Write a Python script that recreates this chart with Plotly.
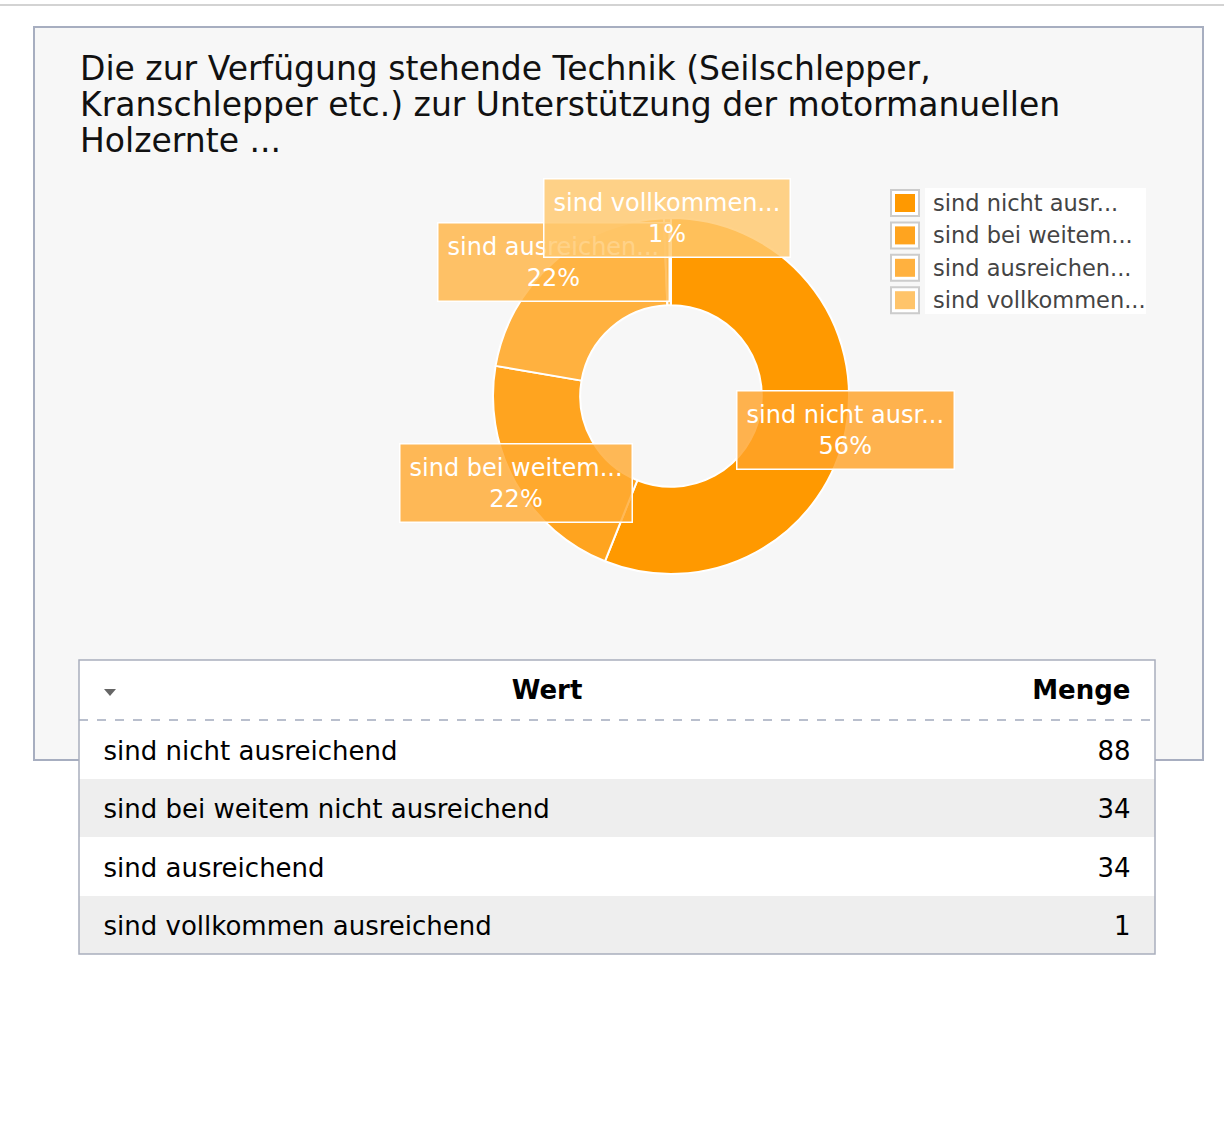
import math
import plotly.graph_objects as go

# ---------------- data ----------------
categories = [
    "sind nicht ausreichend",
    "sind bei weitem nicht ausreichend",
    "sind ausreichend",
    "sind vollkommen ausreichend",
]
short_labels = [
    "sind nicht ausr...",
    "sind bei weitem...",
    "sind ausreichen...",
    "sind vollkommen...",
]
counts = [88, 34, 34, 1]
colors = ["#ff9900", "#ffa41f", "#ffb13f", "#ffc46a"]
box_colors = ["rgba(255,162,40,0.82)", "rgba(255,170,50,0.82)",
              "rgba(255,180,70,0.82)", "rgba(255,200,110,0.82)"]
title_lines = [
    "Die zur Verfügung stehende Technik (Seilschlepper,",
    "Kranschlepper etc.) zur Unterstützung der motormanuellen",
    "Holzernte ...",
]
header_labels = ["Wert", "Menge"]

# ---------------- layout helpers ----------------
W, H = 1224, 1134
FONT = "DejaVu Sans"


def px(x):
    return x / W


def py(y):
    return 1 - y / H


CX, CY, R = 671, 396, 178
HOLE = 0.51

fig = go.Figure()

# Donut
fig.add_trace(go.Pie(
    labels=short_labels,
    values=counts,
    sort=False,
    direction="clockwise",
    rotation=0,
    hole=HOLE,
    textinfo="none",
    hoverinfo="label+value+percent",
    marker=dict(colors=colors, line=dict(color="white", width=2)),
    domain=dict(x=[px(CX - R), px(CX + R)], y=[py(CY + R), py(CY - R)]),
    showlegend=False,
))

# Table geometry
TX0, TX1, TY0 = 79, 1155, 660
HEAD_H, ROW_H = 60, 58.5
TY1 = TY0 + HEAD_H + ROW_H * len(categories)
row_fill = ["#ffffff" if i % 2 == 0 else "#eeeeee" for i in range(len(categories))]
nb = "\u00a0\u00a0"
colw = [936, 140]

# table backgrounds (cells without text)
fig.add_trace(go.Table(
    domain=dict(x=[px(TX0), px(TX1)], y=[py(TY1), py(TY0)]),
    columnwidth=colw,
    header=dict(values=["", ""], height=HEAD_H, fill=dict(color="white"),
                line=dict(color="rgba(0,0,0,0)", width=0)),
    cells=dict(values=[[""] * len(categories), [""] * len(categories)],
               height=ROW_H, fill=dict(color=[row_fill, row_fill]),
               line=dict(color="rgba(0,0,0,0)", width=0)),
))

# table text (transparent cells, vertically centred in the rows above)
D_HEAD, D_ROW = 7, 12
fig.add_trace(go.Table(
    domain=dict(x=[px(TX0), px(TX1)],
                y=[py(TY1 + D_ROW), py(TY0 + D_HEAD)]),
    columnwidth=colw,
    header=dict(
        values=["<b>%s</b>" % header_labels[0], "<b>%s</b>" % header_labels[1]],
        align=["center", "right"],
        suffix=["", nb],
        height=HEAD_H + D_ROW - D_HEAD,
        fill=dict(color="rgba(0,0,0,0)"),
        line=dict(color="rgba(0,0,0,0)", width=0),
        font=dict(family=FONT, size=26, color="#000000"),
    ),
    cells=dict(
        values=[categories, counts],
        align=["left", "right"],
        prefix=["\u00a0", ""],
        suffix=["", nb],
        height=ROW_H,
        fill=dict(color="rgba(0,0,0,0)"),
        line=dict(color="rgba(0,0,0,0)", width=0),
        font=dict(family=FONT, size=26, color="#000000"),
    ),
))

shapes = []
# top separator line of the page
shapes.append(dict(type="line", xref="paper", yref="paper", x0=0, x1=1,
                   y0=py(5), y1=py(5), line=dict(color="#d3d3d3", width=2),
                   layer="below"))
# panel
shapes.append(dict(type="rect", xref="paper", yref="paper",
                   x0=px(34), x1=px(1203), y0=py(760), y1=py(27),
                   fillcolor="#f7f7f7", line=dict(color="#a7aec0", width=2),
                   layer="below"))
# legend background
shapes.append(dict(type="rect", xref="paper", yref="paper",
                   x0=px(925), x1=px(1146), y0=py(314), y1=py(188),
                   fillcolor="#ffffff", line=dict(width=0), layer="below"))
# table outer border + dashed header separator
shapes.append(dict(type="rect", xref="paper", yref="paper",
                   x0=px(TX0), x1=px(TX1), y0=py(TY1), y1=py(TY0),
                   fillcolor="rgba(0,0,0,0)", line=dict(color="#a9aebd", width=1.5),
                   layer="above"))
shapes.append(dict(type="line", xref="paper", yref="paper",
                   x0=px(TX0), x1=px(TX1), y0=py(TY0 + HEAD_H), y1=py(TY0 + HEAD_H),
                   line=dict(color="#a3aabd", width=1.5, dash="dash"), layer="above"))
# sort triangle in header
tx, ty = 110, 692
shapes.append(dict(type="path", xref="paper", yref="paper",
                   path="M %f %f L %f %f L %f %f Z" % (px(tx - 6), py(ty - 3), px(tx + 6), py(ty - 3), px(tx), py(ty + 4)),
                   fillcolor="#666666", line=dict(width=0), layer="above"))

annotations = []
# title (one annotation per line to match the line spacing)
for i, line in enumerate(title_lines):
    annotations.append(dict(text=line, xref="paper", yref="paper",
                            x=px(78), y=py(68 + 36 * i), xanchor="left", yanchor="middle",
                            align="left", showarrow=False,
                            font=dict(family=FONT, size=33, color="#111111")))

# label boxes at slice mid-angles (outer radius)
total = sum(counts)
cum = 0
for i, (lab, v) in enumerate(zip(short_labels, counts)):
    mid = (cum + v / 2) / total * 2 * math.pi
    cum += v
    x = CX + R * math.sin(mid)
    y = CY - R * math.cos(mid)
    pct = round(100 * v / total)
    annotations.append(dict(
        text="%s<br>%d%%" % (lab, pct), xref="paper", yref="paper",
        x=px(x), y=py(y), xanchor="center", yanchor="middle",
        showarrow=False, align="center",
        bgcolor=box_colors[i], bordercolor="white", borderwidth=1.5, borderpad=9,
        font=dict(family=FONT, size=24, color="white")))

# custom legend
LX, LY0, LDY = 891, 203, 32.4
for i, lab in enumerate(short_labels):
    yc = LY0 + i * LDY
    shapes.append(dict(type="rect", xref="paper", yref="paper",
                       x0=px(LX), x1=px(LX + 28), y0=py(yc + 13), y1=py(yc - 13),
                       fillcolor="#ffffff", line=dict(color="#cccccc", width=2),
                       layer="above"))
    shapes.append(dict(type="rect", xref="paper", yref="paper",
                       x0=px(LX + 4), x1=px(LX + 24), y0=py(yc + 9), y1=py(yc - 9),
                       fillcolor=colors[i], line=dict(width=0), layer="above"))
    annotations.append(dict(text=lab, xref="paper", yref="paper",
                            x=px(931), y=py(yc), xanchor="left", yanchor="middle",
                            showarrow=False,
                            font=dict(family=FONT, size=22.5, color="#444444")))

fig.update_layout(
    width=W, height=H,
    margin=dict(l=0, r=0, t=0, b=0),
    paper_bgcolor="white",
    plot_bgcolor="white",
    shapes=shapes,
    annotations=annotations,
    showlegend=False,
    font=dict(family=FONT),
)

fig.write_html("out.html",
               config={"displayModeBar": False},
               post_script="document.body.style.margin='0';document.body.style.overflow='hidden';")
